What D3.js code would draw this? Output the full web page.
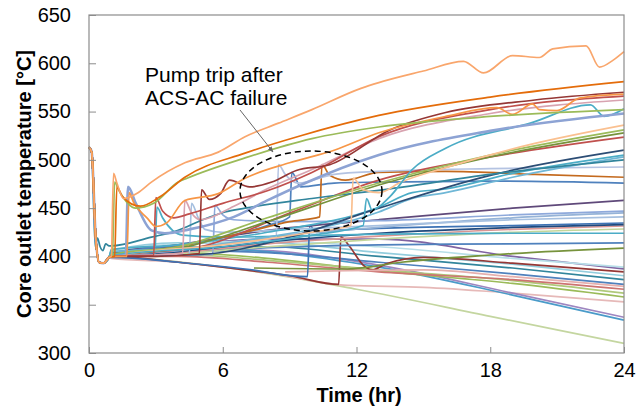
<!DOCTYPE html>
<html lang="en">
<head>
<meta charset="UTF-8">
<script src="https://d3js.org/d3.v7.min.js" charset="utf-8"></script>
<title>Core outlet temperature</title>
<style>
  body { margin: 0; background: #fff; }
  text { font-family: "Liberation Sans", Arial, sans-serif; fill: #000; }
</style>
</head>
<body>
<div id="chart"></div>
<script>
const width = 636, height = 410;

// axis ticks
const xTicks = [0, 6, 12, 18, 24];
const yTicks = [300, 350, 400, 450, 500, 550, 600, 650];

// common start of every run (hr, degC)
const P = [[0, 513], [0.12, 508], [0.3, 420], [0.45, 394], [0.65, 393], [0.9, 399]];
const PT = [[0, 513], [0.12, 508], [0.28, 410], [0.38, 419], [0.5, 410], [0.62, 406], [0.75, 413], [0.9, 411]];

// each run as [time, temperature] pairs
const seriesPoints = [
  [...P, [1, 399], [6, 389], [12, 366], [18, 338], [24, 310]],
  [...P, [1, 398], [4, 394], [8, 383], [11.6, 370], [15, 368], [19, 362], [24, 353]],
  [...P, [1, 402], [4, 408], [8, 406], [13, 391], [19, 362], [24, 337]],
  [...P, [1, 403], [4, 409], [8, 405], [13, 389], [19, 360], [24, 334]],
  [...P, [1, 401], [4, 404], [8, 398], [13, 385], [19, 372], [24, 358]],
  [...P, [1, 400], [4, 402], [8, 396], [13, 386], [19, 375], [24, 362]],
  [...P, [1, 400], [4, 400], [8, 394], [13, 384], [19, 376], [24, 366]],
  [...P, [1, 401], [4, 406], [8, 404], [13, 394], [19, 382], [24, 371]],
  [...P, [1, 404], [4, 410], [8, 410], [13, 400], [19, 388], [24, 376]],
  [...P, [1, 406], [4, 414], [8, 414], [13, 404], [19, 392], [24, 380]],
  [...P, [1, 405], [4, 412], [8, 418], [13, 418], [19, 400], [24, 387]],
  [...P, [1, 405], [4, 413], [8, 416], [13, 410], [19, 398], [24, 389]],
  [...P, [1, 400], [4, 394], [7, 386], [9, 380], [11.2, 371], [11.3, 420], [11.7, 410], [12.3, 391], [12.7, 386], [13.3, 392], [15, 399], [19, 393], [24, 384]],
  [[8.8, 384], [11, 385], [15, 386], [19, 379], [24, 369]],
  [[7.4, 388], [11.6, 387], [14, 394], [19, 403], [24, 408.7]],
  [...P, [1, 402], [4, 405], [8, 409], [13, 412], [19, 413], [24, 414]],
  [...P, [1, 400], [4, 403], [8, 410], [13, 418], [19, 425], [24, 428.4]],
  [...P, [1, 400], [4, 404], [8, 413], [13, 421], [19, 428], [24, 431.5]],
  [...P, [1, 399], [4, 394], [7, 387], [9.8, 379], [9.9, 432], [10.2, 425], [11, 427], [13, 429], [19, 432], [24, 434.6]],
  [...P, [1, 400], [4, 405], [8, 415], [13, 424], [19, 430], [24, 433]],
  [...P, [1, 400], [4, 406], [8, 420], [13, 430], [19, 440], [24, 445]],
  [...P, [1, 403], [4, 412], [8, 427], [13, 438], [19, 450], [24, 458]],
  [...P, [1, 400], [4.5, 402], [4.6, 455], [4.9, 440], [5.2, 428], [6, 425], [9, 428], [13, 432], [19, 438], [24, 441]],
  [...P, [1, 401], [2.95, 401], [3.05, 451], [3.3, 440], [4.2, 422], [6, 420], [9, 421], [13, 423], [19, 424], [24, 424]],
  [...P, [1, 400], [3, 401], [5.55, 402], [5.65, 453], [6, 443], [6.5, 438], [9, 436], [13, 437], [19, 443], [24, 447]],
  [...P, [1, 402], [5, 415], [8, 432], [9.0, 441], [9.1, 487], [9.5, 472], [11, 476], [13, 477], [18, 478], [24, 476]],
  [...P, [1, 400], [4, 410], [7, 425], [9, 436], [10.35, 441], [10.45, 495], [10.8, 484], [11.5, 479], [13, 487], [16, 488], [20, 485], [24, 482]],
  [...P, [1, 400], [5, 410], [8.4, 420], [8.5, 495], [8.8, 485], [9.4, 476], [11, 485], [13, 488], [18, 491], [24, 492.6]],
  [...P, [1, 405], [4, 408], [8, 420], [13, 446], [14.5, 460], [16, 466], [19, 482], [24, 503]],
  [...P, [1, 407], [4, 412], [8, 425], [13, 451], [14.5, 466], [16, 470], [19, 486], [24, 505]],
  [...P, [1, 400], [5, 402], [9, 420], [13, 450], [18, 484], [24, 510]],
  [...P, [1, 400], [5, 410], [9, 445], [13, 479], [18, 503], [24, 523.6]],
  [...P, [1, 401], [4, 408], [8, 436], [13, 474], [18, 503], [24, 528]],
  [...PT, [1, 411], [2.8, 420], [4, 427], [5.1, 438], [6.1, 446], [7, 450], [10, 460], [13.5, 470], [18, 485], [24, 500]],
  [...P, [1, 402], [4, 410], [8, 440], [13, 476], [18, 505], [24, 531]],
  [...P, [1, 400], [6, 412], [10, 425], [11.75, 432], [11.85, 481], [12.3, 469], [13, 466], [14, 477], [16, 492], [20, 517], [24, 536]],
  [...P, [1, 401], [6, 410], [10, 422], [12.3, 432], [12.45, 460], [12.7, 448], [13.5, 462], [14.5, 490], [16, 512], [19.8, 538], [22.5, 557], [23.1, 545], [24, 553]],
  [...P, [1, 400], [1.65, 401], [1.75, 472], [2.1, 455], [2.8, 427], [3.4, 424], [4.5, 428], [6.5, 441], [8, 458], [9.5, 474], [13, 505], [18, 530], [24, 548]],
  [...P, [1, 400], [4.2, 403], [4.3, 458], [4.6, 445], [5, 438], [6.5, 452], [8, 470], [10, 490], [13, 522], [18, 548], [24, 562]],
  [...P, [1, 400], [2.9, 401], [3.0, 461], [3.3, 447], [3.8, 440], [4.5, 444], [6, 455], [8, 468], [10, 487], [13, 524], [18, 552], [24, 566]],
  [...P, [1, 400], [3, 400], [4.95, 403], [5.05, 469], [5.4, 459], [5.9, 465], [6.3, 479], [7.2, 472], [8.2, 477], [9.3, 489], [10.8, 495], [13.5, 531], [16, 549], [20, 562], [24, 570]],
  [...P, [1, 400], [1.7, 400], [1.8, 466], [2.0, 456], [2.6, 440], [3.0, 431], [3.5, 435], [4.3, 458], [5.8, 465], [7, 481], [9, 497], [11, 510], [13, 528], [16, 545], [18.3, 554], [19, 547], [19.9, 558], [20.2, 552], [21, 551], [22, 564], [24, 568]],
  [...P, [1.05, 400], [1.15, 477], [1.35, 468], [2.1, 450], [2.9, 455], [4, 477], [4.4, 481], [7, 502], [10, 522], [13, 534], [17.5, 544], [24, 552]],
  [...P, [1.15, 400], [1.25, 472], [1.5, 462], [2.3, 452], [3.2, 462], [4.3, 482], [7, 507], [9.5, 525], [13, 546], [18, 565], [24, 581]],
  [...P, [1.0, 400], [1.1, 486], [1.25, 476], [1.55, 460], [2.2, 466], [2.8, 477], [4.3, 497], [5.8, 508], [7, 524], [8.5, 538], [10, 552], [12.2, 574], [13, 580], [15, 592], [16.8, 602], [17.7, 590], [19, 608], [20.2, 606], [20.8, 615], [22.3, 618], [22.9, 596], [23.5, 603], [24, 612]]
];

const seriesColors = [
  "#C4D6A0", "#E6B9B8", "#9E86C0", "#4A9BC9", "#9BBB59", "#AFC97A", "#CD7371", "#4F81BD",
  "#31859C", "#93CDDD", "#8064A2", "#B7DEE8", "#953735", "#E6B0AE", "#77933C", "#4F81BD",
  "#C3D69B", "#D99694", "#3E73B5", "#1F497D", "#95B3D7", "#5F497A", "#A6C0E0", "#4BACC6",
  "#8EA9DB", "#4F81BD", "#C46A1E", "#B4C3E2", "#6FB7D6", "#4BACC6", "#2C4D75", "#C0504D",
  "#76923C", "#31859C", "#9BBB59", "#FAC090", "#4BACC6", "#8DA3D4", "#D8A3B0", "#C0504D",
  "#953735", "#F79646", "#9BBB59", "#E46C0A", "#F9A66C"
];
const thickIndex = 37;

const margin = { top: 15, right: 12, bottom: 57, left: 89 };
const plotW = width - margin.left - margin.right;
const plotH = height - margin.top - margin.bottom;

const x = d3.scaleLinear().domain([0, 24]).range([0, plotW]);
const y = d3.scaleLinear().domain([300, 650]).range([plotH, 0]);

const svg = d3.select("#chart").append("svg")
  .attr("width", width)
  .attr("height", height);

const g = svg.append("g")
  .attr("transform", "translate(" + margin.left + "," + margin.top + ")");

// runs
const line = d3.line()
  .x(d => x(d[0]))
  .y(d => y(d[1]))
  .curve(d3.curveMonotoneX);

g.append("g").selectAll("path")
  .data(seriesPoints)
  .enter()
  .append("path")
  .attr("d", line)
  .attr("fill", "none")
  .attr("stroke", (d, i) => seriesColors[i])
  .attr("stroke-width", (d, i) => i === thickIndex ? 2.6 : 1.7)
  .attr("stroke-linejoin", "round");

// frame and ticks (ticks point inward)
const axisColor = "#8c8c8c";
g.append("rect")
  .attr("width", plotW).attr("height", plotH)
  .attr("fill", "none").attr("stroke", axisColor).attr("stroke-width", 1.2);

const yAxis = g.append("g").call(d3.axisLeft(y).tickValues(yTicks).tickSize(-7).tickPadding(18));
const xAxis = g.append("g").attr("transform", "translate(0," + plotH + ")")
  .call(d3.axisBottom(x).tickValues(xTicks).tickSize(-6).tickPadding(10));

[yAxis, xAxis].forEach(a => {
  a.select(".domain").remove();
  a.selectAll("line").attr("stroke", axisColor);
  a.selectAll("text").attr("font-size", 20).attr("fill", "#000")
    .style("font-family", "'Liberation Sans', Arial, sans-serif");
});

// axis titles
svg.append("text")
  .attr("transform", "translate(31," + (margin.top + plotH / 2) + ") rotate(-90)")
  .attr("text-anchor", "middle")
  .attr("font-size", 20).attr("font-weight", "bold")
  .text("Core outlet temperature [°C]");

svg.append("text")
  .attr("x", 359).attr("y", 402)
  .attr("text-anchor", "middle")
  .attr("font-size", 20).attr("font-weight", "bold")
  .text("Time (hr)");

// annotation
svg.append("defs").append("marker")
  .attr("id", "arrow")
  .attr("viewBox", "0 0 10 10")
  .attr("refX", 9).attr("refY", 5)
  .attr("markerWidth", 6).attr("markerHeight", 6)
  .attr("orient", "auto")
  .append("path").attr("d", "M0,1 L10,5 L0,9 Z").attr("fill", "#666");

svg.append("line")
  .attr("x1", 240).attr("y1", 110).attr("x2", 273).attr("y2", 152)
  .attr("stroke", "#666").attr("stroke-width", 1)
  .attr("marker-end", "url(#arrow)");

svg.append("ellipse")
  .attr("cx", 311).attr("cy", 191).attr("rx", 71).attr("ry", 40)
  .attr("fill", "none").attr("stroke", "#000")
  .attr("stroke-width", 1.5).attr("stroke-dasharray", "6,4");

const note = svg.append("text").attr("font-size", 21);
note.append("tspan").attr("x", 145).attr("y", 82).text("Pump trip after");
note.append("tspan").attr("x", 145).attr("y", 105).text("ACS-AC failure");
</script>
</body>
</html>
